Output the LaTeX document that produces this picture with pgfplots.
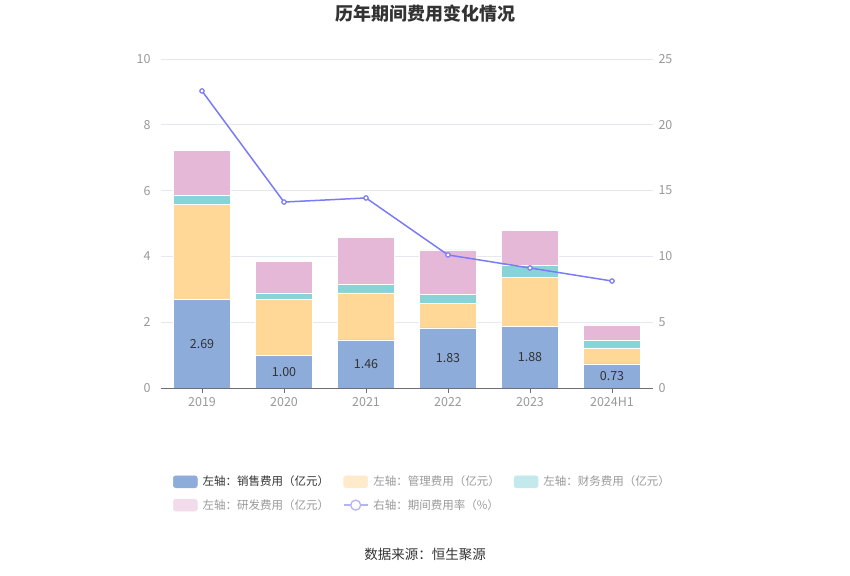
\documentclass[border=0pt]{standalone}
\usepackage{pgfplots}
\pgfplotsset{compat=1.18}
\usepackage{fontspec}
\setmainfont{Noto Sans CJK SC}
\definecolor{blueC}{HTML}{8EACDA}
\definecolor{orangeC}{HTML}{FFD898}
\definecolor{tealC}{HTML}{86D4D8}
\definecolor{pinkC}{HTML}{E6B8D8}
\definecolor{lineC}{HTML}{7B7BF5}
\definecolor{orangeL}{HTML}{FFEBCC}
\definecolor{tealL}{HTML}{C3E9EC}
\definecolor{pinkL}{HTML}{F2DCEC}
\definecolor{lineL}{HTML}{B3B3F8}
\definecolor{gridC}{HTML}{E6E8F0}
\definecolor{tickC}{HTML}{999999}
\definecolor{axisC}{HTML}{6E7079}
\definecolor{txtC}{HTML}{333333}
\pgfplotstableread{
x sales mgmt fin rd
0 2.69 2.90 0.28 1.36
1 1.00 1.70 0.19 0.97
2 1.46 1.43 0.25 1.43
3 1.83 0.75 0.26 1.36
4 1.88 1.48 0.37 1.05
5 0.73 0.49 0.23 0.47
}\costs
\pgfplotstableread{
x rate
0 22.57
1 14.13
2 14.44
3 10.11
4 9.12
5 8.13
}\rate
\pgfplotstableread{
x y lab
0 1.345 2.69
1 0.50 1.00
2 0.73 1.46
3 0.915 1.83
4 0.94 1.88
5 0.365 0.73
}\labs
\begin{document}
\begin{tikzpicture}
\path[use as bounding box] (0pt,0pt) rectangle (850pt,575pt);
\node[font=\fontsize{18}{20}\selectfont\bfseries, text=txtC] at (425pt,561pt) {历年期间费用变化情况};
\node[font=\fontsize{13.5}{15}\selectfont, text=txtC] at (425pt,21pt) {数据来源：恒生聚源};
\pgfplotsset{
  base/.style={
    at={(161pt,187pt)}, anchor=south west, scale only axis,
    width=492pt, height=329pt,
    xmin=-0.5, xmax=5.5,
    /pgf/number format/assume math mode=true,
    tick label style={font=\fontsize{12.5}{14}\selectfont, text=tickC},
  }
}
\begin{axis}[base,
  ymin=0, ymax=10, ytick={0,2,...,10},
  ybar stacked, bar width=57pt,
  xtick=data, xticklabels={2019,2020,2021,2022,2023,2024H1},
  axis x line*=bottom, axis y line*=left,
  y axis line style={draw=none}, ytick style={draw=none},
  x axis line style={draw=axisC, line width=0.8pt, -},
  xtick style={draw=axisC, line width=0.8pt},
  tick align=outside, major tick length=5pt,
  ymajorgrids, grid style={draw=gridC, line width=0.8pt},
  yticklabel style={xshift=-2pt},
  xticklabel style={yshift=-1pt},
  legend columns=3,
  legend cell align=left,
  legend style={at={(0.018,-0.255)}, anchor=north west, draw=none, fill=none,
    font=\fontsize{11.5}{13}\selectfont,
    row sep=8pt,
    /tikz/every odd column/.append style={column sep=3pt},
    /tikz/every even column/.append style={column sep=12pt}},
]
\addplot[fill=blueC, draw=white, line width=0.5pt,
  legend image code/.code={\fill[blueC, rounded corners=2.5pt] (0pt,-6pt) rectangle (24pt,6pt);}]
  table[x=x, y=sales] {\costs};
\addlegendentry{\textcolor{txtC}{左轴：销售费用（亿元）}}
\addplot[fill=orangeC, draw=white, line width=0.5pt,
  legend image code/.code={\fill[orangeL, rounded corners=2.5pt] (0pt,-6pt) rectangle (24pt,6pt);}]
  table[x=x, y=mgmt] {\costs};
\addlegendentry{\textcolor{tickC}{左轴：管理费用（亿元）}}
\addplot[fill=tealC, draw=white, line width=0.5pt,
  legend image code/.code={\fill[tealL, rounded corners=2.5pt] (0pt,-6pt) rectangle (24pt,6pt);}]
  table[x=x, y=fin] {\costs};
\addlegendentry{\textcolor{tickC}{左轴：财务费用（亿元）}}
\addplot[fill=pinkC, draw=white, line width=0.5pt,
  legend image code/.code={\fill[pinkL, rounded corners=2.5pt] (0pt,-6pt) rectangle (24pt,6pt);}]
  table[x=x, y=rd] {\costs};
\addlegendentry{\textcolor{tickC}{左轴：研发费用（亿元）}}
\addlegendimage{legend image code/.code={\draw[lineL, line width=1.3pt] (0pt,0pt) -- (24pt,0pt); \draw[lineL, fill=white, line width=1.3pt] (12pt,0pt) circle (5pt);}}
\addlegendentry{\textcolor{tickC}{右轴：期间费用率（\%）}}
\end{axis}
\begin{axis}[base,
  ymin=0, ymax=10, hide axis,
]
\addplot[draw=none, mark=none, nodes near coords, point meta=explicit symbolic,
  every node near coord/.style={anchor=center, font=\fontsize{12.5}{14}\selectfont, text=txtC}]
  table[x=x, y=y, meta=lab] {\labs};
\end{axis}
\begin{axis}[base,
  ymin=0, ymax=25, ytick={0,5,...,25},
  axis y line*=right, axis x line=none,
  y axis line style={draw=none}, ytick style={draw=none},
  yticklabel style={xshift=2pt, anchor=west},
]
\addplot[lineC, line width=1.5pt, mark=*, mark size=2.2pt,
  mark options={fill=white, draw=lineC, line width=1.2pt}]
  table[x=x, y=rate] {\rate};
\end{axis}
\end{tikzpicture}
\end{document}
